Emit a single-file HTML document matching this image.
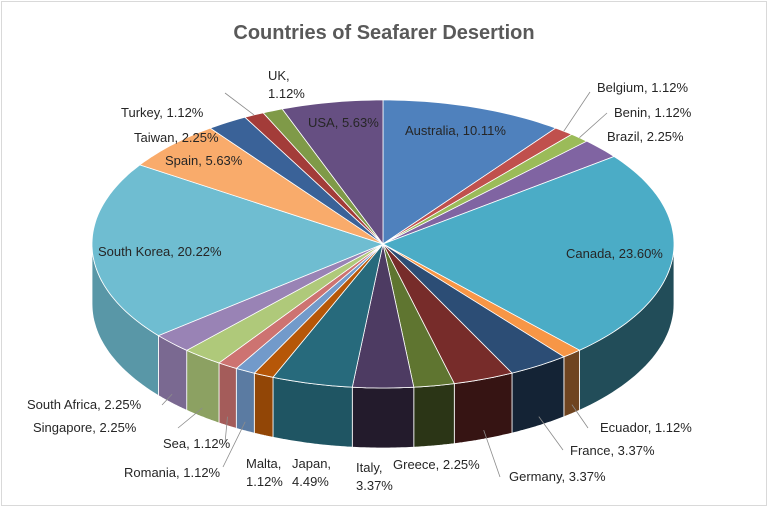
<!DOCTYPE html>
<html><head><meta charset="utf-8"><style>
html,body{margin:0;padding:0;background:#fff}
svg{display:block}
text{font-family:"Liberation Sans",sans-serif;font-size:13px;fill:#262626}
</style></head><body>
<svg id="chart" width="768" height="507" viewBox="0 0 768 507">
<rect x="1.5" y="1.5" width="765" height="504" fill="#fff" stroke="#d9d9d9"/>
<text x="384" y="39" text-anchor="middle" style="font-size:20px;font-weight:bold;fill:#595959">Countries of Seafarer Desertion</text>
<g id="sides"></g><g id="tops"></g><g id="lines"></g><g id="labels"></g>
</svg>
<script>
const categories=["Australia","Belgium","Benin","Brazil","Canada","Ecuador","France","Germany","Greece","Italy","Japan","Malta","Romania","Sea","Singapore","South Africa","South Korea","Spain","Taiwan","Turkey","UK","USA"];
const values=[10.11,1.12,1.12,2.25,23.60,1.12,3.37,3.37,2.25,3.37,4.49,1.12,1.12,1.12,2.25,2.25,20.22,5.63,2.25,1.12,1.12,5.63];
const colors=["#4f81bd","#c0504d","#9bbb59","#8064a2","#4bacc6","#f79646","#2c4d75","#772c2a","#5f7530","#4d3b62","#276a7c","#b65708","#729aca","#cd7371","#afc97a","#9983b5","#6fbdd1","#f9ab6b","#3a6298","#a33c39","#7f9a48","#664f82"];
// label layout: [x, y, anchorX, anchorY(leader end or null), two-line]
const labelPos=[[405,135,null,null,0],[597,92,590,92,0],[614,117,607,113,0],[607,141,null,null,0],[566,258,null,null,0],[600,432,588,428,0],[570,455,563,450,0],[509,481,500,477,0],[393,469,null,null,0],[356,472,null,null,1],[292,468,null,null,1],[246,468,null,null,1],[124,477,223,467,0],[163,448,225,443,0],[33,432,178,428,0],[27,409,162,405,0],[98,256,null,null,0],[165,165,null,null,0],[134,142,null,null,0],[121,117,225,93,0],[268,80,null,null,1],[308,127,null,null,0]];
const cx=383,cy=244,rx=291,ry=144,depth=60;
const NS="http://www.w3.org/2000/svg";
function pt(t,dy){return [cx+rx*Math.sin(t),cy-ry*Math.cos(t)+(dy||0)];}
function shade(hex,f){const n=parseInt(hex.slice(1),16);let r=n>>16,g=(n>>8)&255,b=n&255;return `rgb(${Math.round(r*f)},${Math.round(g*f)},${Math.round(b*f)})`;}
const total=values.reduce((a,b)=>a+b,0);
const sides=document.getElementById('sides'),tops=document.getElementById('tops'),lines=document.getElementById('lines'),labels=document.getElementById('labels');
let acc=0;const arcs=[];
values.forEach((v,i)=>{const a=acc/total*2*Math.PI;acc+=v;const b=acc/total*2*Math.PI;arcs.push([a,b]);});
arcs.forEach(([a,b],i)=>{
  const s=Math.max(a,Math.PI/2),e=Math.min(b,3*Math.PI/2);
  if(e>s){
    let d="";const n=30;
    for(let k=0;k<=n;k++){const p=pt(s+(e-s)*k/n);d+=(k?"L":"M")+p[0].toFixed(1)+","+p[1].toFixed(1);}
    for(let k=n;k>=0;k--){const p=pt(s+(e-s)*k/n,depth);d+="L"+p[0].toFixed(1)+","+p[1].toFixed(1);}
    const mid=(s+e)/2;
    const el=document.createElementNS(NS,'path');el.setAttribute('d',d+"Z");el.setAttribute('fill',shade(colors[i],Math.sin(mid)>0?0.45:0.8));el.setAttribute('stroke','#fff');el.setAttribute('stroke-width','0.8');
    
    
    sides.appendChild(el);
  }
  let d=`M${cx},${cy}`;const n=Math.max(4,Math.ceil((b-a)*40));
  for(let k=0;k<=n;k++){const p=pt(a+(b-a)*k/n);d+="L"+p[0].toFixed(1)+","+p[1].toFixed(1);}
  const el=document.createElementNS(NS,'path');el.setAttribute('d',d+"Z");el.setAttribute('fill',colors[i]);el.setAttribute('stroke','#fff');el.setAttribute('stroke-width','0.8');
  
  
  tops.appendChild(el);
});
arcs.forEach(([a,b],i)=>{
  const L=labelPos[i];const txt=categories[i]+", "+values[i].toFixed(2)+"%";
  if(L[2]!==null){
    const m=(a+b)/2;const low=Math.cos(m)<0;const p=pt(m,low?depth*0.85:0);
    const ln=document.createElementNS(NS,'polyline');
    ln.setAttribute('points',`${p[0].toFixed(1)},${p[1].toFixed(1)} ${L[2]},${L[3]}`);
    ln.setAttribute('fill','none');ln.setAttribute('stroke','#8c8c8c');ln.setAttribute('stroke-width','0.8');
    
    
    lines.appendChild(ln);
  }
  const t=document.createElementNS(NS,'text');t.setAttribute('x',L[0]);t.setAttribute('y',L[1]);
  
  
  if(L[4]){
    const t1=document.createElementNS(NS,'tspan');t1.setAttribute('x',L[0]);t1.textContent=categories[i]+",";
    const t2=document.createElementNS(NS,'tspan');t2.setAttribute('x',L[0]);t2.setAttribute('dy','18');t2.textContent=values[i].toFixed(2)+"%";
    t.appendChild(t1);t.appendChild(t2);
  } else t.textContent=txt;
  labels.appendChild(t);
});
</script>
</body></html>
